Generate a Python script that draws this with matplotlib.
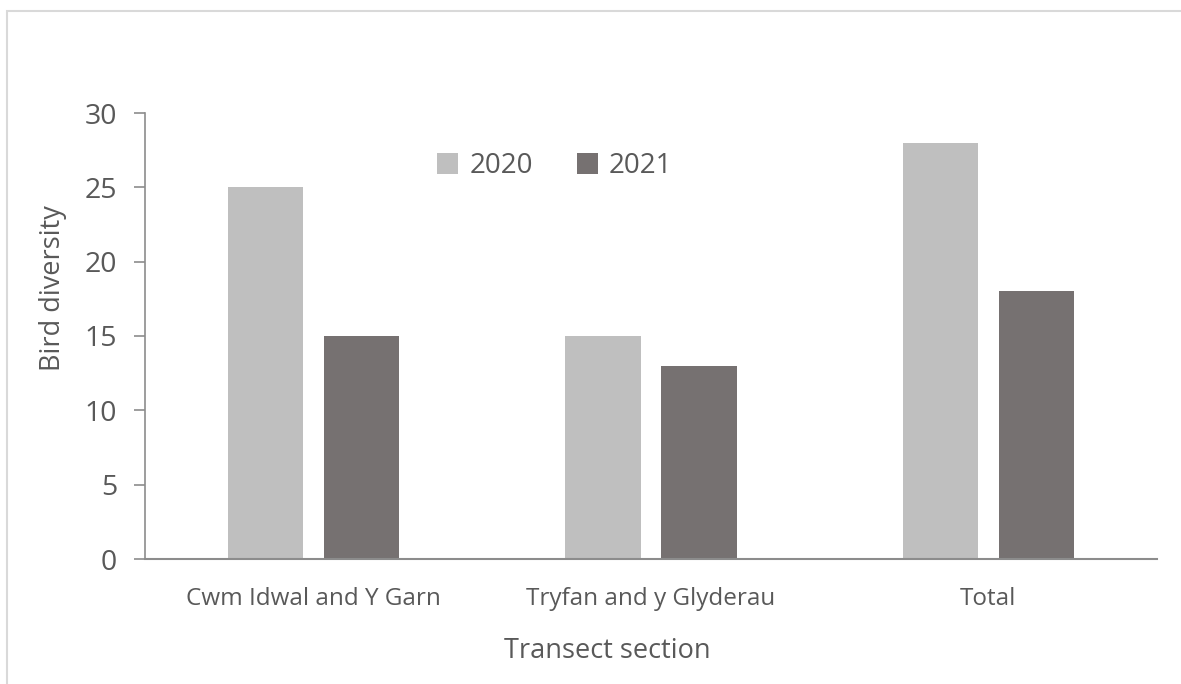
import matplotlib
matplotlib.use("Agg")
import matplotlib.pyplot as plt
import numpy as np
from matplotlib.patches import Rectangle

categories = ["Cwm Idwal and Y Garn", "Tryfan and y Glyderau", "Total"]
series_names = ["2020", "2021"]
values_2020 = [25, 15, 28]
values_2021 = [15, 13, 18]
yticks = [0, 5, 10, 15, 20, 25, 30]

c2020 = "#BFBFBF"
c2021 = "#767171"
txt = "#595959"
axc = "#8C8C8C"

plt.rcParams['font.family'] = ['Open Sans', 'DejaVu Sans']

fig = plt.figure(figsize=(11.81, 6.84), dpi=100)
fig.patches.append(Rectangle((7/1181, -0.1), 1.2, (684-11)/684 + 0.1, transform=fig.transFigure,
                             fill=False, edgecolor="#D9D9D9", linewidth=1.5, zorder=0))
ax = fig.add_axes([145/1181, 1-559/684, (1157-145)/1181, (559-113)/684])

x = np.arange(len(categories))
w = 0.223
off = 0.1425
ax.bar(x - off, values_2020, w, color=c2020, label=series_names[0], zorder=2)
ax.bar(x + off, values_2021, w, color=c2021, label=series_names[1], zorder=2)

ax.set_xlim(-0.5, 2.5)
ax.set_ylim(0, 30)
ax.set_yticks(yticks)
ax.set_xticks(x)
ax.set_xticklabels(categories, fontsize=17.5, color=txt)
ax.tick_params(axis='y', labelsize=20.5, colors=txt, length=8, width=1.2, color=axc, pad=12)
ax.tick_params(axis='x', length=0, pad=20)
for s in ["top", "right"]:
    ax.spines[s].set_visible(False)
ax.spines["left"].set_color(axc)
ax.spines["bottom"].set_color(axc)
ax.spines["left"].set_linewidth(1.2)
ax.spines["bottom"].set_linewidth(1.5)
ax.set_ylabel("Bird diversity", fontsize=19.5, color=txt)
ax.set_xlabel("Transect section", fontsize=19.5, color=txt)
ax.xaxis.set_label_coords(0.4565, -0.175)
ax.yaxis.set_label_coords(-0.077, 0.607)

leg = ax.legend(loc="upper center", bbox_to_anchor=(0.405, 0.968), ncol=2, frameon=False,
                fontsize=20, handlelength=0.75, handleheight=0.75, columnspacing=1.6,
                handletextpad=0.4)
for t in leg.get_texts():
    t.set_color(txt)

fig.savefig("out.png", dpi=100)
